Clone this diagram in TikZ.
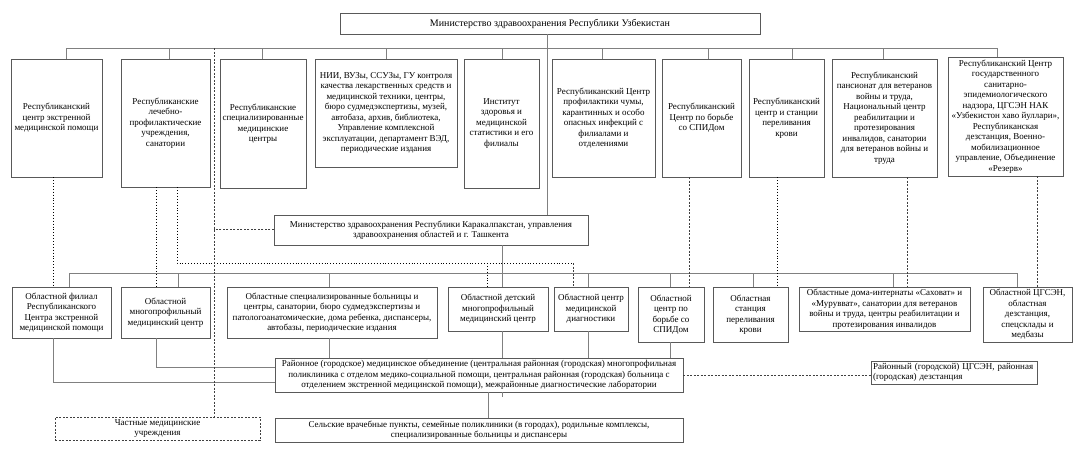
\documentclass[tikz,border=0pt]{standalone}
\usepackage{fontspec}
\setmainfont{Liberation Serif}
\usetikzlibrary{positioning, calc}
\definecolor{boxgray}{gray}{0.35}
\definecolor{linkgray}{gray}{0.5}
\tikzset{
  box/.style={draw=boxgray, fill=white, align=center, inner sep=1pt,
    font=\fontsize{9}{10.5}\selectfont},
  wh/.style 2 args={minimum width=#1pt, minimum height=#2pt},
  link/.style={draw=linkgray, line width=0.8pt},
  dotlink/.style={draw=black, line width=0.9pt, dotted},
  dashlink/.style={draw=black!75, line width=0.6pt, dash pattern=on 2pt off 1.5pt},
}
\begin{document}
\begin{tikzpicture}[x=1pt, y=-1pt]
    \useasboundingbox (0,0) rectangle (1082,459);

    % Ministry and the republican level
    \node[box, wh={420}{21}, font=\fontsize{10}{12}\selectfont] (M) at (550,23.5)
        {Министерство здравоохранения Республики Узбекистан};
    \node[box, wh={91}{118}] (r1) at (56.5,118)
        {Республиканский\\центр экстренной\\медицинской помощи};
    \node[box, wh={89}{128}] (r2) at (165.5,123)
        {Республиканские\\лечебно-\\профилактические\\учреждения,\\санатории};
    \node[box, wh={86}{129}] (r3) at (263,123.5)
        {Республиканские\\специализированные\\медицинские\\центры};
    \node[box, wh={142}{108}] (r4) at (386,113)
        {НИИ, ВУЗы, ССУЗы, ГУ контроля\\качества лекарственных средств и\\медицинской техники, центры,\\бюро судмедэкспертизы, музей,\\автобаза, архив, библиотека,\\Управление комплексной\\эксплуатации, департамент ВЭД,\\периодические издания};
    \node[box, wh={75}{129}] (r5) at (501.5,123.5)
        {Институт\\здоровья и\\медицинской\\статистики и его\\филиалы};
    \node[box, wh={103}{118}] (r6) at (603.5,118)
        {Республиканский Центр\\профилактики чумы,\\карантинных и особо\\опасных инфекций с\\филиалами и\\отделениями};
    \node[box, wh={79}{118}] (r7) at (701.5,118)
        {Республиканский\\Центр по борьбе\\со СПИДом};
    \node[box, wh={75}{118}] (r8) at (786.5,118)
        {Республиканский\\центр и станции\\переливания\\крови};
    \node[box, wh={105}{118}] (r9) at (884.5,118)
        {Республиканский\\пансионат для ветеранов\\войны и труда,\\Национальный центр\\реабилитации и\\протезирования\\инвалидов, санатории\\для ветеранов войны и\\труда};
    \node[box, wh={115}{119}] (r10) at (1005.5,116.5)
        {Республиканский Центр\\государственного\\санитарно-\\эпидемиологического\\надзора, ЦГСЭН НАК\\«Узбекистон хаво йуллари»,\\Республиканская\\дезстанция, Военно-\\мобилизационное\\управление, Объединение\\«Резерв»};

    % Regional level
    \node[box, wh={314}{30}] (K) at (431,230)
        {Министерство здравоохранения Республики Каракалпакстан, управления\\здравоохранения областей и г. Ташкента};
    \node[box, wh={99}{51}] (s1) at (61.5,312.5)
        {Областной филиал\\Республиканского\\Центра экстренной\\медицинской помощи};
    \node[box, wh={89}{51}] (s2) at (165.5,312.5)
        {Областной\\многопрофильный\\медицинский центр};
    \node[box, wh={210}{51}] (s3) at (332,312.5)
        {Областные специализированные больницы и\\центры, санатории, бюро судмедэкспертизы и\\патологоанатомические, дома ребенка, диспансеры,\\автобазы, периодические издания};
    \node[box, wh={100}{44}] (s4) at (498,309)
        {Областной детский\\многопрофильный\\медицинский центр};
    \node[box, wh={74}{44}] (s5) at (591,309)
        {Областной центр\\медицинской\\диагностики};
    \node[box, wh={66}{55}] (s6) at (671,314.5)
        {Областной\\центр по\\борьбе со\\СПИДом};
    \node[box, wh={75}{55}] (s7) at (750.5,314.5)
        {Областная\\станция\\переливания\\крови};
    \node[box, wh={171}{44}] (s8) at (884.5,309)
        {Областные дома-интернаты «Саховат» и\\«Мурувват», санатории для ветеранов\\войны и труда, центры реабилитации и\\протезирования инвалидов};
    \node[box, wh={89}{55}] (s9) at (1027.5,314.5)
        {Областной ЦГСЭН,\\областная\\дезстанция,\\спецсклады и\\медбазы};

    % District level
    \node[box, wh={408}{34}] (D) at (479,375)
        {Районное (городское) медицинское объединение (центральная районная (городская) многопрофильная\\поликлиника с отделом медико-социальной помощи, центральная районная (городская) больница с\\отделением экстренной медицинской помощи), межрайонные диагностические лаборатории};
    \node[box, wh={408}{24}] (V) at (479,430)
        {Сельские врачебные пункты, семейные поликлиники (в городах), родильные комплексы,\\специализированные больницы и диспансеры};
    \node[box, wh={205}{23}, draw=black!75, dash pattern=on 2pt off 1.5pt] (P) at (157.5,428.5)
        {Частные медицинские\\учреждения};
    \node[box, wh={166}{23}, text width=162pt, align=left] (Z) at (954,372.5)
        {Районный (городской) ЦГСЭН, районная\\(городская) дезстанция};

    % Solid links
    \coordinate (bus1) at (66,48);
    \coordinate (bus2) at (69,273);
    \draw[link] (bus1) -- (997,48);
    \draw[link] (bus2) -- (1017,273);
    \draw[link] ([xshift=-3pt]M.south) -- ([xshift=-3pt]M.south |- K.north);
    \foreach \n/\x in {r1/66, r2/169, r3/262, r4/386, r5/502, r6/602, r7/708, r8/792, r9/883, r10/997} {
        \coordinate (t) at (\x,48);
        \draw[link] (t) -- (t |- \n.north);
    }
    \draw[link] ([xshift=71pt]K.south) -- ([xshift=71pt]K.south |- bus2);
    \foreach \n/\x in {s1/69, s2/178, s3/329, s4/502, s5/588, s6/670, s7/753, s8/893, s9/1017} {
        \coordinate (t) at (\x,273);
        \draw[link] (t) -- (t |- \n.north);
    }
    \coordinate (j1) at (53,382);
    \coordinate (j2) at (156,367);
    \draw[link] (j1 |- s1.south) |- (D.west |- j1);
    \draw[link] (j2 |- s2.south) |- (D.west |- j2);
    \foreach \n/\x in {s3/329, s4/502, s5/588, s6/670} {
        \coordinate (t) at (\x,358);
        \draw[link] (t |- \n.south) -- (t |- D.north);
    }
    \coordinate (dv) at (488,400);
    \draw[link] (dv |- D.south) -- (dv |- V.north);
    \draw[link] ([xshift=23pt]D.south) -- ++(0,5);
    \draw[link] ([xshift=63pt]s9.south) -- ([xshift=63pt]s9.south |- Z.north);
    \draw[dashlink] (D.east) -- (D.east -| Z.west);

    % Dotted and dashed links
    \coordinate (q1) at (53,200);
    \coordinate (q2) at (156,200);
    \coordinate (q3) at (177,263);
    \coordinate (q4) at (487,263);
    \coordinate (q5) at (573,263);
    \coordinate (q6) at (214,229);
    \draw[dotlink] (q1 |- r1.south) -- (q1 |- s1.north);
    \draw[dotlink] (q2 |- r2.south) -- (q2 |- s2.north);
    \draw[dotlink] (q3 |- r2.south) -- (q3) -- (q5);
    \draw[dotlink] (q4) -- (q4 |- s4.north);
    \draw[dashlink] (q5) -- (q5 |- s5.north);
    \draw[dashlink] (q6 |- bus1) -- (q6 |- P.north);
    \draw[dashlink] (K.west |- q6) -- (q6);
    \coordinate (q7) at (689,200);
    \coordinate (q8) at (777,200);
    \coordinate (q9) at (907,200);
    \coordinate (q10) at (1037,200);
    \draw[dashlink] (q7 |- r7.south) -- (q7 |- s6.north);
    \draw[dotlink] (q8 |- r8.south) -- (q8 |- s7.north);
    \draw[dashlink] (q9 |- r9.south) -- (q9 |- s8.north);
    \draw[dashlink] (q10 |- r10.south) -- (q10 |- s9.north);
\end{tikzpicture}
\end{document}
